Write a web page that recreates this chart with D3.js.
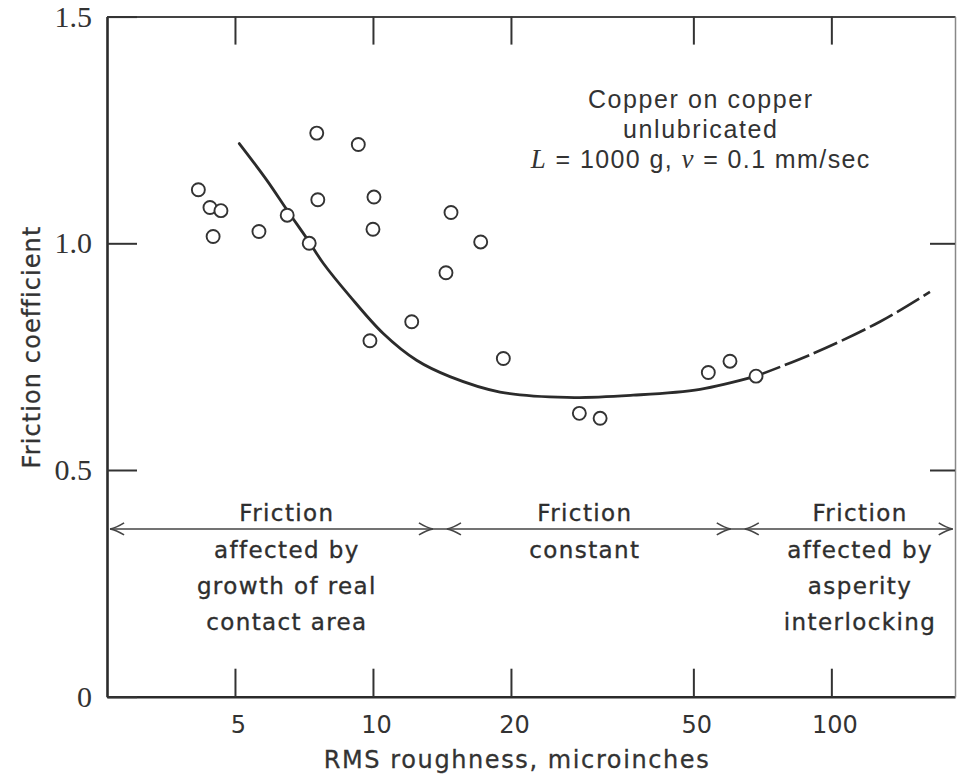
<!DOCTYPE html>
<html><head><meta charset="utf-8">
<script src="https://cdn.jsdelivr.net/npm/d3@7"></script>
<style>
html,body{margin:0;padding:0;background:#fff;}
svg{display:block;}
</style></head>
<body>
<svg id="chart" width="957" height="776"></svg>
<script>
// ---------- data ----------
const pointX = [4.16, 4.41, 4.66, 4.48, 5.64, 6.50, 7.26, 7.54, 7.58, 9.29, 10.05, 10.0, 14.80, 14.43, 12.15, 9.85, 17.18, 19.25, 28.2, 31.3, 53.9, 60.1, 68.5];
const pointY = [1.118, 1.079, 1.072, 1.015, 1.026, 1.062, 1.000, 1.243, 1.096, 1.218, 1.102, 1.031, 1.068, 0.935, 0.827, 0.785, 1.003, 0.746, 0.625, 0.614, 0.715, 0.740, 0.707];

const curveX = [5.11, 5.86, 6.50, 7.26, 7.79, 8.91, 10.53, 12.45, 14.72, 18.93, 26.5, 36.97, 51.7, 68.5];
const curveY = [1.220, 1.140, 1.073, 1.003, 0.956, 0.883, 0.801, 0.742, 0.706, 0.672, 0.660, 0.665, 0.678, 0.707];
const dashX = [68.5, 91.3, 127.6, 164.1];
const dashY = [0.707, 0.757, 0.827, 0.893];

const xTicks = [5, 10, 20, 50, 100];
const xTickLabels = ["5", "10", "20", "50", "100"];
const yTicks = [0, 0.5, 1.0, 1.5];
const yTickLabels = ["0", "0.5", "1.0", "1.5"];

const regionBounds = [2.67, 14.0, 62.5, 184];
const regionCenters = [6.49, 29.0, 115.5];
const regionLines = [
  ["Friction", "affected by", "growth of real", "contact area"],
  ["Friction", "constant"],
  ["Friction", "affected by", "asperity", "interlocking"]
];
const regionArrowLevel = 0.37;

const noteLines = ["Copper on copper", "unlubricated"];
const xTitle = "RMS roughness, microinches";
const yTitle = "Friction coefficient";

// ---------- scales ----------
const svg = d3.select("#chart");
const x = d3.scaleLog().domain([2.629, 186.1]).range([107, 955]);
const y = d3.scaleLinear().domain([0, 1.5]).range([696.7, 16.6]);
const ink = "#2b2b2b";

// ---------- axes ----------
const gB = svg.append("g").attr("transform", `translate(0,${y(0)})`)
  .call(d3.axisBottom(x).tickValues(xTicks).tickFormat((d, i) => xTickLabels[i])
    .tickSize(-28).tickSizeOuter(0).tickPadding(19));
const gT = svg.append("g").attr("transform", `translate(0,${y(1.5)})`)
  .call(d3.axisTop(x).tickValues(xTicks).tickFormat("").tickSize(-28).tickSizeOuter(0));
const gL = svg.append("g").attr("transform", `translate(${x.range()[0]},0)`)
  .call(d3.axisLeft(y).tickValues(yTicks).tickFormat((d, i) => yTickLabels[i])
    .tickSize(-30).tickSizeOuter(0).tickPadding(15));
const gR = svg.append("g").attr("transform", `translate(${x.range()[1]},0)`)
  .call(d3.axisRight(y).tickValues([0.5, 1.0]).tickFormat("").tickSize(-25).tickSizeOuter(0));

[gB, gL].forEach(g => g.select(".domain").attr("stroke", ink).attr("stroke-width", 2.6));
gT.select(".domain").attr("stroke", "#444").attr("stroke-width", 2);
gR.select(".domain").attr("stroke", "#888").attr("stroke-width", 1.5);
[gB, gT, gL, gR].forEach(g => g.selectAll(".tick line").attr("stroke", "#333").attr("stroke-width", 2));
gB.selectAll(".tick text").attr("font-family", "DejaVu Sans").attr("font-size", 24)
  .attr("fill", "#333").attr("dx", 3);
gL.selectAll(".tick text").attr("font-family", "Liberation Serif").attr("font-size", 30)
  .attr("fill", "#333");

// axis titles
svg.append("text").attr("x", 517).attr("y", 768).attr("text-anchor", "middle")
  .attr("font-family", "DejaVu Sans").attr("font-size", 24).attr("letter-spacing", 1.6)
  .attr("fill", "#333").attr("stroke", "#333").attr("stroke-width", 0.3).text(xTitle);
svg.append("text").attr("transform", "translate(40,347) rotate(-90)").attr("text-anchor", "middle")
  .attr("font-family", "DejaVu Sans").attr("font-size", 24).attr("letter-spacing", 1.1)
  .attr("fill", "#333").attr("stroke", "#333").attr("stroke-width", 0.3).text(yTitle);

// ---------- curve ----------
const line = d3.line().x(d => x(d[0])).y(d => y(d[1])).curve(d3.curveCatmullRom.alpha(0.5));
svg.append("path").datum(curveX.map((v, i) => [v, curveY[i]]))
  .attr("d", line).attr("fill", "none").attr("stroke", ink).attr("stroke-width", 2.8)
  .attr("stroke-linecap", "round");
svg.append("path").datum(dashX.map((v, i) => [v, dashY[i]]))
  .attr("d", line).attr("fill", "none").attr("stroke", ink).attr("stroke-width", 2.6)
  .attr("stroke-dasharray", "26,5");

// ---------- points ----------
svg.append("g").selectAll("circle").data(pointX.map((v, i) => [v, pointY[i]])).join("circle")
  .attr("cx", d => x(d[0])).attr("cy", d => y(d[1])).attr("r", 6.5)
  .attr("fill", "#fff").attr("stroke", "#333").attr("stroke-width", 1.9);

// ---------- region arrows ----------
const ay = y(regionArrowLevel);
const gA = svg.append("g").attr("stroke", "#444").attr("fill", "none").attr("stroke-width", 1.6);
gA.append("line").attr("x1", x(regionBounds[0])).attr("x2", x(regionBounds[3]))
  .attr("y1", ay).attr("y2", ay);
function chevron(tx, dir) {
  gA.append("path").attr("d", `M${tx - dir * 14},${ay - 6} Q${tx - dir * 6},${ay - 1} ${tx},${ay} Q${tx - dir * 6},${ay + 1} ${tx - dir * 14},${ay + 6}`);
}
for (let i = 0; i < regionBounds.length - 1; i++) {
  const l = x(regionBounds[i]), r = x(regionBounds[i + 1]);
  const padL = i === 0 ? 0 : 7, padR = i === regionBounds.length - 2 ? 0 : 7;
  chevron(l + padL, -1);
  chevron(r - padR, 1);
}

// region labels
regionLines.forEach((lines, i) => {
  const t = svg.append("text").attr("text-anchor", "middle")
    .attr("font-family", "DejaVu Sans").attr("font-size", 23).attr("letter-spacing", 1.4)
    .attr("fill", "#2e2e2e").attr("stroke", "#2e2e2e").attr("stroke-width", 0.35);
  lines.forEach((s, j) => {
    t.append("tspan").attr("x", x(regionCenters[i])).attr("y", ay - 8 + j * 36 + (j > 0 ? 1 : 0)).text(s);
  });
});

// ---------- annotation ----------
const noteX = x(51.9), noteY = y(1.294) - 2;
const note = svg.append("g").attr("font-family", "Liberation Sans").attr("font-size", 25)
  .attr("fill", "#333").attr("text-anchor", "middle").attr("letter-spacing", 1.6);
noteLines.forEach((s, j) => note.append("text").attr("x", noteX).attr("y", noteY + j * 30).text(s));
const eq = note.append("text").attr("x", noteX).attr("y", noteY + 60).attr("letter-spacing", 1.4);
eq.append("tspan").attr("font-family", "Liberation Serif").attr("font-style", "italic").attr("font-size", 27).text("L");
eq.append("tspan").text(" = 1000 g, ");
eq.append("tspan").attr("font-family", "Liberation Serif").attr("font-style", "italic").attr("font-size", 27).text("v");
eq.append("tspan").text(" = 0.1 mm/sec");
</script>
</body></html>
